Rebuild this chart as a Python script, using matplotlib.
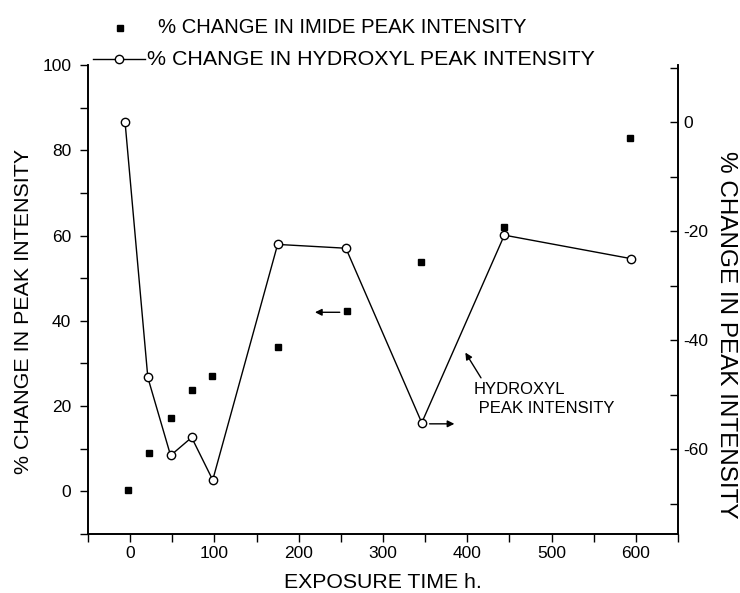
import matplotlib
matplotlib.use('Agg')
import matplotlib.pyplot as plt
from matplotlib.lines import Line2D
from matplotlib.ticker import MultipleLocator

plt.rcParams['font.family'] = ['Liberation Sans', 'DejaVu Sans']
plt.rcParams['axes.unicode_minus'] = False

# exposure time (h) and % change, imide peak (left axis)
imide_time = [-3, 22, 48, 73, 97, 175, 257, 345, 444, 593]
imide_change = [0.3, 8.9, 17.1, 23.7, 27.0, 33.8, 42.4, 53.7, 61.9, 82.9]

# exposure time (h) and % change, hydroxyl peak (right axis)
hydroxyl_time = [-6, 21, 48, 73, 98, 175, 256, 346, 444, 594]
hydroxyl_change = [0.0, -46.8, -61.1, -57.8, -65.6, -22.4, -23.1, -55.1, -20.7, -25.0]

fig = plt.figure(figsize=(7.4, 5.93), dpi=100)
ax = fig.add_axes([0.1189, 0.0995, 0.7973, 0.7909])
ax2 = ax.twinx()

ax.plot(imide_time, imide_change, ls='none', marker='s', ms=4.5,
        mfc='black', mec='black')
ax2.plot(hydroxyl_time, hydroxyl_change, color='black', lw=1.0,
         marker='o', ms=6, mfc='white', mec='black', mew=1.0)

ax.set_xlim(-50, 650)
ax.set_ylim(-10, 100)
ax2.set_ylim(-75.5, 10.5)

ax.xaxis.set_major_locator(MultipleLocator(100))
ax.xaxis.set_minor_locator(MultipleLocator(50))
ax.yaxis.set_major_locator(MultipleLocator(20))
ax.yaxis.set_minor_locator(MultipleLocator(10))
ax2.yaxis.set_major_locator(MultipleLocator(20))
ax2.yaxis.set_minor_locator(MultipleLocator(10))

for a in (ax, ax2):
    a.spines['top'].set_visible(False)
    for s in a.spines.values():
        s.set_linewidth(1.2)

ax.tick_params(axis='both', which='both', direction='out', length=6,
               width=1.0, labelsize=12.5)
ax.tick_params(axis='y', pad=6)
ax.tick_params(axis='x', pad=3)
ax2.tick_params(axis='y', which='both', direction='in', length=6,
                width=1.0, labelsize=12.5, pad=4)

ax.set_xlabel('EXPOSURE TIME h.', fontsize=15.3, labelpad=8)
ax.set_ylabel('% CHANGE IN PEAK INTENSITY', fontsize=15.4)
ax.yaxis.set_label_coords(-0.093, 0.475)
ax2.set_ylabel('% CHANGE IN PEAK INTENSITY', fontsize=17.5, rotation=270)
ax2.yaxis.set_label_coords(1.100, 0.424)

# arrows pointing each series to its axis
arrow = dict(arrowstyle='-|>', color='black', lw=1.0, mutation_scale=10)
ax.annotate('', xy=(216, 42.0), xytext=(252, 42.0), arrowprops=arrow)
ax2.annotate('', xy=(388, -55.3), xytext=(352, -55.3), arrowprops=arrow)
ax2.annotate('', xy=(396, -41.8), xytext=(418, -47.3), arrowprops=arrow)
ax2.text(408, -47.6, 'HYDROXYL\n PEAK INTENSITY', fontsize=12,
         ha='left', va='top', linespacing=1.35)

# legend above the plot
fig.add_artist(Line2D([0.1622], [0.9528], transform=fig.transFigure,
                      ls='none', marker='s', ms=4.5, mfc='black', mec='black'))
fig.text(0.2135, 0.9528, '% CHANGE IN IMIDE PEAK INTENSITY', fontsize=14.6,
         ha='left', va='center')
fig.add_artist(Line2D([0.1257, 0.1959], [0.9005, 0.9005],
                      transform=fig.transFigure, color='black', lw=1.0))
fig.add_artist(Line2D([0.1608], [0.9005], transform=fig.transFigure,
                      ls='none', marker='o', ms=6, mfc='white', mec='black'))
fig.text(0.1986, 0.9005, '% CHANGE IN HYDROXYL PEAK INTENSITY', fontsize=15.4,
         ha='left', va='center')

fig.savefig('out.png', dpi=100)
